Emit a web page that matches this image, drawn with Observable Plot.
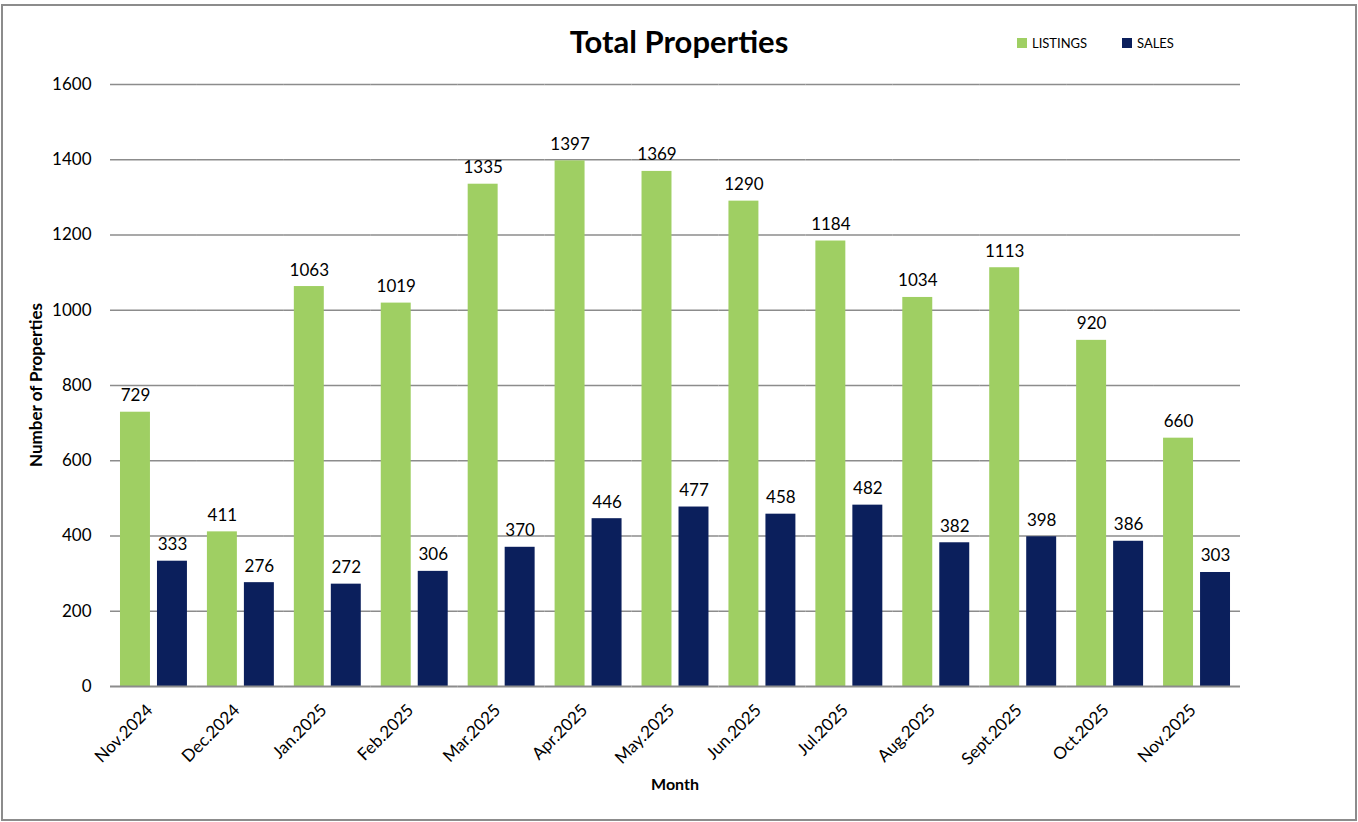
<!DOCTYPE html>
<html>
<head>
<meta charset="utf-8">
<script src="https://cdn.jsdelivr.net/npm/d3@7"></script>
<script src="https://cdn.jsdelivr.net/npm/@observablehq/plot@0.6"></script>
<style>
  html, body { margin: 0; padding: 0; background: #fff; }
  #wrap { position: relative; width: 1358px; height: 822px; font-family: Lato, "Open Sans", sans-serif; overflow: hidden; }
  #frame { position: absolute; left: 1px; top: 4px; width: 1356px; height: 817px; border: 2px solid #8c8c8c; box-sizing: border-box; pointer-events: none; }
  #header { position: relative; height: 70px; }
  #title { position: absolute; left: 0; width: 1358px; top: 22px; text-align: center; font-weight: bold; font-size: 31px; line-height: 38px; color: #000; }
  .leg { position: absolute; top: 35px; font-size: 13px; color: #000; display: flex; align-items: center; }
  .sw { width: 10px; height: 10px; margin-right: 5px; }
  #chart svg { display: block; }
</style>
</head>
<body>
<div id="wrap">
  <div id="header">
    <div id="title">Total Properties</div>
    <div class="leg" style="left:1017px"><span class="sw" style="background:#9fcf63"></span>LISTINGS</div>
    <div class="leg" style="left:1122px"><span class="sw" style="background:#0b1f5c"></span>SALES</div>
  </div>
  <div id="chart"></div>
  <div id="frame"></div>
</div>
<script>
const months = ["Nov.2024","Dec.2024","Jan.2025","Feb.2025","Mar.2025","Apr.2025","May.2025","Jun.2025","Jul.2025","Aug.2025","Sept.2025","Oct.2025","Nov.2025"];
const listings = [729,411,1063,1019,1335,1397,1369,1290,1184,1034,1113,920,660];
const sales = [333,276,272,306,370,446,477,458,482,382,398,386,303];
const seriesNames = ["LISTINGS","SALES"];
const seriesColors = ["#9fcf63","#0b1f5c"];
const yTicks = [0,200,400,600,800,1000,1200,1400,1600];

const data = [];
months.forEach((m, i) => {
  data.push({month: m, series: seriesNames[0], value: listings[i]});
  data.push({month: m, series: seriesNames[1], value: sales[i]});
});

const W = 1358, H = 752;
const plot = Plot.plot({
  width: W,
  height: H,
  marginTop: 14,
  marginBottom: 136,
  marginLeft: 110,
  marginRight: 118,
  style: {fontFamily: "Lato, 'Open Sans', sans-serif", fontSize: "17px", color: "#000", background: "#fff"},
  fx: {domain: months, padding: 0, round: false, label: null},
  x: {domain: seriesNames, paddingInner: 0.19, paddingOuter: 0.27, round: false, axis: null},
  y: {domain: [0, 1600], label: null},
  color: {domain: seriesNames, range: seriesColors},
  marks: [
    Plot.gridY(yTicks.filter(d => d > 0), {stroke: "#8c8c8c", strokeOpacity: 1, strokeWidth: 1.5}),
    Plot.axisY({ticks: yTicks, tickSize: 0, tickPadding: 19, tickFormat: d => String(d), fontSize: 17, label: null}),
    Plot.barY(data, {fx: "month", x: "series", y: "value", fill: "series"}),
    Plot.text(data, {fx: "month", x: "series", y: "value", text: d => String(d.value), lineAnchor: "bottom", dy: -11, fontSize: 17, fill: "#000"}),
    Plot.ruleY([0], {stroke: "#8c8c8c", strokeWidth: 2}),
    Plot.axisFx({anchor: "bottom", tickRotate: -45, tickSize: 0, tickPadding: 21, dx: -4, textAnchor: "end", fontSize: 17, label: null})
  ]
});
document.getElementById("chart").appendChild(plot);

const svg = d3.select(plot);
svg.append("text")
  .attr("transform", `translate(38, ${(14 + (H - 136)) / 2}) rotate(-90)`)
  .attr("text-anchor", "middle")
  .attr("dominant-baseline", "middle")
  .attr("font-weight", "bold")
  .attr("font-size", 17)
  .attr("fill", "#000")
  .text("Number of Properties");
svg.append("text")
  .attr("x", 675)
  .attr("y", 716)
  .attr("text-anchor", "middle")
  .attr("dominant-baseline", "middle")
  .attr("font-weight", "bold")
  .attr("font-size", 16)
  .attr("fill", "#000")
  .text("Month");
</script>
</body>
</html>
